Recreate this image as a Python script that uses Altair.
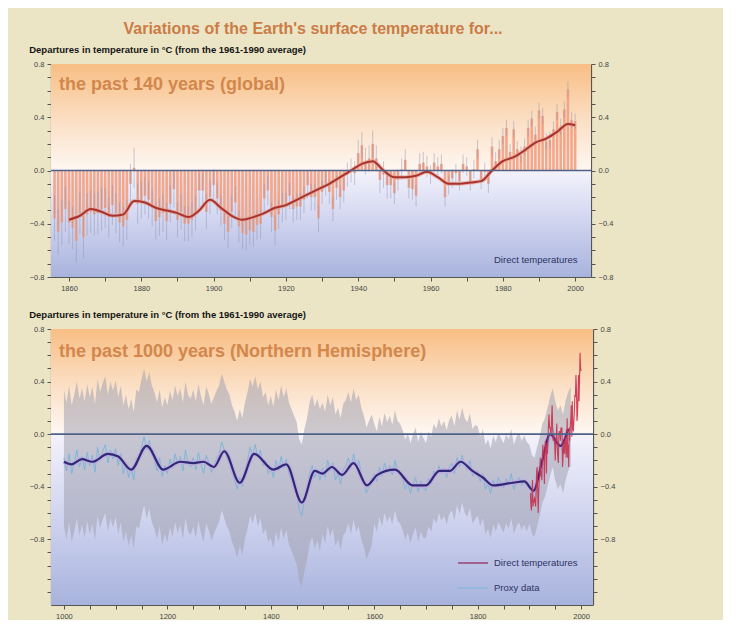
import altair as alt
import pandas as pd

# ---------------- data: past 140 years (global) ----------------
years_g = list(range(1856, 2001))
anom_g = [
    -0.36, -0.46, -0.39, -0.29, -0.39, -0.43, -0.53, -0.32, -0.50, -0.33,
    -0.31, -0.33, -0.32, -0.29, -0.28, -0.35, -0.26, -0.32, -0.39, -0.42,
    -0.37, -0.10, 0.02, -0.25, -0.22, -0.19, -0.22, -0.28, -0.38, -0.35,
    -0.32, -0.38, -0.25, -0.14, -0.37, -0.31, -0.40, -0.40, -0.37, -0.32,
    -0.15, -0.15, -0.31, -0.20, -0.11, -0.21, -0.30, -0.40, -0.46, -0.31,
    -0.24, -0.42, -0.47, -0.48, -0.45, -0.46, -0.41, -0.40, -0.21, -0.15,
    -0.35, -0.45, -0.33, -0.28, -0.27, -0.19, -0.29, -0.27, -0.27, -0.22,
    -0.11, -0.20, -0.20, -0.36, -0.16, -0.10, -0.16, -0.29, -0.13, -0.20,
    -0.15, -0.03, 0.00, -0.02, 0.13, 0.19, 0.07, 0.09, 0.20, 0.09,
    -0.07, -0.03, -0.11, -0.11, -0.17, -0.07, 0.01, 0.08, -0.13, -0.14,
    -0.19, 0.05, 0.06, 0.03, -0.03, 0.06, 0.03, 0.05, -0.20, -0.11,
    -0.06, -0.02, -0.08, 0.05, 0.03, -0.08, 0.01, 0.16, -0.07, -0.01,
    -0.10, 0.18, 0.07, 0.16, 0.26, 0.32, 0.14, 0.31, 0.16, 0.12,
    0.18, 0.32, 0.39, 0.27, 0.45, 0.41, 0.22, 0.23, 0.31, 0.44,
    0.33, 0.46, 0.61, 0.38, 0.37,
]
err_decades = [1850, 1860, 1870, 1880, 1890, 1900, 1910, 1920, 1930, 1940, 1950, 1960, 1970, 1980, 1990, 2000]
err_g = [0.17, 0.16, 0.15, 0.14, 0.13, 0.12, 0.11, 0.10, 0.09, 0.10, 0.08, 0.07, 0.07, 0.06, 0.06, 0.06]

smooth_g_years = [1860, 1863, 1866, 1869, 1872, 1875, 1878, 1881, 1884, 1887, 1890, 1893, 1896, 1899,
                  1902, 1905, 1908, 1911, 1914, 1917, 1920, 1923, 1926, 1929, 1932, 1935, 1938, 1941,
                  1944, 1947, 1950, 1953, 1956, 1959, 1962, 1965, 1968, 1971, 1974, 1977, 1980, 1983,
                  1986, 1989, 1992, 1995, 1998, 2000]
smooth_g_vals = [-0.37, -0.34, -0.29, -0.31, -0.34, -0.33, -0.23, -0.24, -0.28, -0.30, -0.32, -0.35, -0.30, -0.22,
                 -0.28, -0.34, -0.37, -0.35, -0.32, -0.28, -0.26, -0.22, -0.18, -0.14, -0.10, -0.05, 0.00, 0.05,
                 0.07, 0.00, -0.05, -0.05, -0.04, -0.01, -0.05, -0.10, -0.10, -0.09, -0.08, 0.00, 0.07, 0.10,
                 0.15, 0.21, 0.24, 0.29, 0.35, 0.34]

# ---------------- data: past 1000 years (NH) ----------------
proxy_years = list(range(1000, 1981, 5))
proxy_vals = [
    -0.18, -0.28, -0.15, -0.30, -0.22, -0.12, -0.25, -0.17, -0.27, -0.14,
    -0.24, -0.16, -0.29, -0.10, -0.20, -0.13, -0.08, -0.22, -0.12, -0.19,
    -0.11, -0.24, -0.15, -0.30, -0.22, -0.33, -0.25, -0.35, -0.18, -0.20,
    -0.10, -0.02, -0.12, -0.05, -0.15, -0.20, -0.28, -0.18, -0.32, -0.24,
    -0.30, -0.19, -0.26, -0.15, -0.23, -0.17, -0.28, -0.12, -0.22, -0.25,
    -0.18, -0.27, -0.14, -0.23, -0.30, -0.16, -0.21, -0.29, -0.24, -0.19,
    -0.15, -0.06, -0.12, -0.18, -0.22, -0.30, -0.35, -0.42, -0.33, -0.40,
    -0.28, -0.20, -0.10, -0.16, -0.08, -0.18, -0.12, -0.24, -0.20, -0.30,
    -0.25, -0.33, -0.20, -0.28, -0.17, -0.26, -0.19, -0.30, -0.35, -0.40,
    -0.45, -0.58, -0.62, -0.50, -0.42, -0.30, -0.24, -0.33, -0.27, -0.35,
    -0.26, -0.33, -0.20, -0.28, -0.22, -0.35, -0.30, -0.38, -0.27, -0.24,
    -0.18, -0.26, -0.15, -0.24, -0.20, -0.30, -0.36, -0.45, -0.40, -0.35,
    -0.30, -0.36, -0.25, -0.32, -0.22, -0.29, -0.24, -0.31, -0.20, -0.28,
    -0.30, -0.35, -0.42, -0.37, -0.45, -0.38, -0.33, -0.44, -0.36, -0.41,
    -0.43, -0.34, -0.38, -0.28, -0.32, -0.24, -0.30, -0.26, -0.33, -0.25,
    -0.22, -0.30, -0.18, -0.25, -0.16, -0.24, -0.27, -0.20, -0.32, -0.29,
    -0.28, -0.36, -0.30, -0.42, -0.38, -0.45, -0.35, -0.40, -0.33, -0.37,
    -0.41, -0.34, -0.38, -0.30, -0.42, -0.36, -0.33, -0.39, -0.35, -0.40,
    -0.38, -0.46, -0.48, -0.40, -0.32, -0.22, -0.18, -0.10, -0.02, 0.05,
    -0.05, -0.12, -0.08, -0.15, -0.05, 0.02, 0.06,
]
band_centuries = [1000, 1100, 1200, 1300, 1400, 1500, 1600, 1700, 1800, 1900]
band_err = [0.52, 0.52, 0.52, 0.52, 0.54, 0.50, 0.38, 0.36, 0.34, 0.30]

smooth_nh_years = [1000, 1015, 1035, 1055, 1085, 1105, 1130, 1160, 1192, 1225, 1250, 1270, 1290, 1310,
                   1340, 1368, 1405, 1430, 1460, 1485, 1500, 1518, 1538, 1560, 1586, 1606, 1640, 1674,
                   1700, 1726, 1746, 1767, 1790, 1810, 1830, 1868, 1890, 1908, 1925, 1940, 1960, 1975]
smooth_nh_vals = [-0.21, -0.23, -0.19, -0.21, -0.15, -0.17, -0.27, -0.09, -0.27, -0.21, -0.22, -0.21, -0.25, -0.13,
                  -0.37, -0.15, -0.27, -0.23, -0.52, -0.28, -0.30, -0.25, -0.31, -0.22, -0.39, -0.31, -0.27, -0.39,
                  -0.39, -0.28, -0.28, -0.21, -0.28, -0.33, -0.39, -0.37, -0.36, -0.43, -0.20, 0.00, -0.09, 0.04]

instr_years = list(range(1902, 2001))
instr_vals = [
    -0.45, -0.55, -0.58, -0.45, -0.35, -0.55, -0.50, -0.52,
    -0.48, -0.52, -0.55, -0.45, -0.28, -0.25, -0.42, -0.60, -0.45, -0.35,
    -0.32, -0.18, -0.32, -0.28, -0.35, -0.20, -0.08, -0.15, -0.15, -0.38,
    -0.12, -0.05, -0.08, -0.30, -0.08, -0.15, -0.05, 0.08, 0.15, 0.05,
    0.05, 0.02, 0.00, 0.12, 0.22, 0.05, -0.05, 0.00, -0.05, -0.08,
    -0.20, -0.05, -0.02, 0.08, -0.12, -0.18, -0.22, 0.00, 0.02, 0.02,
    -0.05, 0.05, 0.02, 0.05, -0.25, -0.18, -0.10, -0.05, -0.15, -0.02,
    -0.05, -0.18, -0.12, 0.12, -0.18, -0.08, -0.25, 0.05, -0.05, 0.05,
    0.12, 0.22, -0.02, 0.25, 0.05, 0.02, 0.10, 0.18, 0.30, 0.28,
    0.45, 0.35, 0.10, 0.15, 0.30, 0.45, 0.25, 0.42, 0.62, 0.50, 0.48,
]

y_ticks = [round(-1.2 + 0.1 * i, 1) for i in range(21)]
x_ticks_top = list(range(1860, 2001, 10))
x_ticks_bot = list(range(1000, 2001, 50))

# ---------------- tables ----------------
def decade_err(y):
    idx = max(i for i, d in enumerate(err_decades) if d <= y)
    return err_g[idx]

df_g = pd.DataFrame({"year": years_g, "t": anom_g})
df_g["err"] = [decade_err(y) for y in years_g]
df_g["lo"] = df_g["t"] - df_g["err"]
df_g["hi"] = df_g["t"] + df_g["err"]
df_g["zero"] = 0.0
df_gs = pd.DataFrame({"year": smooth_g_years, "t": smooth_g_vals})

def cent_err(y):
    idx = max(i for i, d in enumerate(band_centuries) if d <= y)
    return band_err[idx]

df_p = pd.DataFrame({"year": proxy_years, "t": proxy_vals})
df_p["lo"] = df_p["t"] - [cent_err(y) for y in proxy_years]
df_p["hi"] = df_p["t"] + [cent_err(y) for y in proxy_years]
df_ns = pd.DataFrame({"year": smooth_nh_years, "t": smooth_nh_vals})
df_i = pd.DataFrame({"year": instr_years, "t": instr_vals})
one = pd.DataFrame({"a": [0]})

FONT = "Liberation Sans"
AX = "#555555"
LBL = "#444444"

W1, H1 = 540, 213
W2, H2 = 542, 276

xs1 = alt.Scale(domain=[1856.4, 2003], nice=False, zero=False)
ys1 = alt.Scale(domain=[-0.8, 0.8], nice=False, zero=False)
xs2 = alt.Scale(domain=[975, 2023], nice=False, zero=False)
ys2 = alt.Scale(domain=[-1.3, 0.8], nice=False, zero=False)

ylabel_expr = "abs(round(datum.value*10) % 4) == 0 && datum.value > -0.85 ? format(datum.value, '.1f') : ''"

def yaxis(orient):
    return alt.Axis(orient=orient, values=y_ticks, labelExpr=ylabel_expr, title=None, grid=False,
                    tickSize=4, tickColor=AX, domainColor=AX, domainWidth=1.2, labelFontSize=7.5,
                    labelColor=LBL, labelPadding=3, labelFont=FONT)

xaxis1 = alt.Axis(values=x_ticks_top, labelExpr="datum.value % 20 == 0 ? '' + datum.value : ''", title=None,
                  grid=False, tickSize=4, tickColor=AX, domainColor=AX, domainWidth=1.2, labelFontSize=7.5,
                  labelColor=LBL, labelPadding=3, labelFont=FONT, orient="bottom")
xaxis2 = alt.Axis(values=x_ticks_bot, labelExpr="datum.value % 200 == 0 ? '' + datum.value : ''", title=None,
                  grid=False, tickSize=4, tickColor=AX, domainColor=AX, domainWidth=1.2, labelFontSize=7.5,
                  labelColor=LBL, labelPadding=3, labelFont=FONT, orient="bottom")

def grad(zero_off):
    return alt.Gradient(
        gradient="linear", x1=0, x2=0, y1=0, y2=1,
        stops=[
            alt.GradientStop(color="#f8be84", offset=0),
            alt.GradientStop(color="#fbe0c6", offset=zero_off * 0.55),
            alt.GradientStop(color="#fef6f0", offset=zero_off - 0.01),
            alt.GradientStop(color="#f2f1fb", offset=zero_off + 0.01),
            alt.GradientStop(color="#d2d6f0", offset=zero_off + (1 - zero_off) * 0.45),
            alt.GradientStop(color="#a8b3dd", offset=1),
        ],
    )

SUB = "Departures in temperature in °C (from the 1961-1990 average)"

# ---------------- top panel ----------------
bg1 = alt.Chart(one).mark_rect(fill=grad(0.5), stroke=None).encode(
    x=alt.value(0), x2=alt.value(W1), y=alt.value(0), y2=alt.value(H1))

bars1 = alt.Chart(df_g).mark_bar(size=2.6, color="#f2a286", opacity=0.95).encode(
    x=alt.X("year:Q", scale=xs1, axis=xaxis1),
    y=alt.Y("t:Q", scale=ys1, axis=yaxis("left")),
    y2="zero:Q")

err1 = alt.Chart(df_g).mark_rule(color="#9092b0", strokeWidth=0.8, opacity=0.6).encode(
    x=alt.X("year:Q", scale=xs1, axis=xaxis1),
    y=alt.Y("lo:Q", scale=ys1, axis=None),
    y2="hi:Q")

zero1 = alt.Chart(one).mark_rule(color="#4f6288", strokeWidth=1.6).encode(
    y=alt.Y(datum=0, scale=ys1, axis=yaxis("right")))

halo1 = alt.Chart(df_gs).mark_line(color="#e8a08a", strokeWidth=4, opacity=0.7, interpolate="monotone").encode(
    x=alt.X("year:Q", scale=xs1, axis=xaxis1), y=alt.Y("t:Q", scale=ys1, axis=None))
line1 = alt.Chart(df_gs).mark_line(color="#a8322f", strokeWidth=2, interpolate="monotone").encode(
    x=alt.X("year:Q", scale=xs1, axis=xaxis1), y=alt.Y("t:Q", scale=ys1, axis=None))

label1 = alt.Chart(one).mark_text(text="the past 140 years (global)", align="left", baseline="middle",
                                  font=FONT, fontSize=18, fontWeight="bold", color="#d2874c").encode(
    x=alt.value(8), y=alt.value(21))
leg1 = alt.Chart(one).mark_text(text="Direct temperatures", align="left", baseline="middle",
                                font=FONT, fontSize=9.5, color="#2c3464").encode(
    x=alt.value(443), y=alt.value(196))

top = alt.layer(bg1, bars1, err1, halo1, line1, zero1, label1, leg1).resolve_scale(
    y="independent", x="shared").resolve_axis(x="shared").properties(
    width=W1, height=H1,
    title=alt.Title(SUB, anchor="start", fontSize=9.5, fontWeight="bold", color="#151515", font=FONT, offset=6))

# ---------------- bottom panel ----------------
zero_off2 = 0.8 / 2.1
bg2 = alt.Chart(one).mark_rect(fill=grad(zero_off2), stroke=None).encode(
    x=alt.value(0), x2=alt.value(W2), y=alt.value(0), y2=alt.value(H2))

band2 = alt.Chart(df_p).mark_area(color="#a3a3b0", opacity=0.55).encode(
    x=alt.X("year:Q", scale=xs2, axis=xaxis2),
    y=alt.Y("lo:Q", scale=ys2, axis=yaxis("left")),
    y2="hi:Q")

proxy2 = alt.Chart(df_p).mark_line(color="#6fb2de", strokeWidth=0.9, opacity=0.9).encode(
    x=alt.X("year:Q", scale=xs2, axis=xaxis2), y=alt.Y("t:Q", scale=ys2, axis=None))

instr2 = alt.Chart(df_i).mark_line(color="#c8304e", strokeWidth=1.1, opacity=0.9).encode(
    x=alt.X("year:Q", scale=xs2, axis=xaxis2), y=alt.Y("t:Q", scale=ys2, axis=None))

zero2 = alt.Chart(one).mark_rule(color="#4f6288", strokeWidth=1.6).encode(
    y=alt.Y(datum=0, scale=ys2, axis=yaxis("right")))

halo2 = alt.Chart(df_ns).mark_line(color="#c3a8e0", strokeWidth=5, opacity=0.7, interpolate="monotone").encode(
    x=alt.X("year:Q", scale=xs2, axis=xaxis2), y=alt.Y("t:Q", scale=ys2, axis=None))
line2 = alt.Chart(df_ns).mark_line(color="#2f2a78", strokeWidth=2.2, interpolate="monotone").encode(
    x=alt.X("year:Q", scale=xs2, axis=xaxis2), y=alt.Y("t:Q", scale=ys2, axis=None))

label2 = alt.Chart(one).mark_text(text="the past 1000 years (Northern Hemisphere)", align="left", baseline="middle",
                                  font=FONT, fontSize=18, fontWeight="bold", color="#d2874c").encode(
    x=alt.value(8), y=alt.value(23))

leg_line_a = alt.Chart(one).mark_rule(color="#9a3a6a", strokeWidth=1.4).encode(
    x=alt.value(407), x2=alt.value(437), y=alt.value(234))
leg_text_a = alt.Chart(one).mark_text(text="Direct temperatures", align="left", baseline="middle",
                                      font=FONT, fontSize=9.5, color="#2c3464").encode(
    x=alt.value(443), y=alt.value(234))
leg_line_b = alt.Chart(one).mark_rule(color="#8ab8dc", strokeWidth=1.4).encode(
    x=alt.value(407), x2=alt.value(437), y=alt.value(259))
leg_text_b = alt.Chart(one).mark_text(text="Proxy data", align="left", baseline="middle",
                                      font=FONT, fontSize=9.5, color="#2c3464").encode(
    x=alt.value(443), y=alt.value(259))

bottom = alt.layer(bg2, band2, proxy2, halo2, line2, instr2, zero2, label2,
                   leg_line_a, leg_text_a, leg_line_b, leg_text_b).resolve_scale(
    y="independent", x="shared").resolve_axis(x="shared").properties(
    width=W2, height=H2,
    title=alt.Title(SUB, anchor="start", fontSize=9.5, fontWeight="bold", color="#151515", font=FONT, offset=6))

chart = alt.vconcat(top, bottom, spacing=17).properties(
    title=alt.Title("Variations of the Earth's surface temperature for...", fontSize=16, color="#cb7b45",
                    font=FONT, anchor="middle", dx=-9, offset=8)
).configure(
    background="#ebe5c6",
    padding={"left": 21, "top": 12, "right": 108, "bottom": 0},
).configure_view(stroke=None)

chart.save("out.html", embed_options={"renderer": "svg", "actions": False})
